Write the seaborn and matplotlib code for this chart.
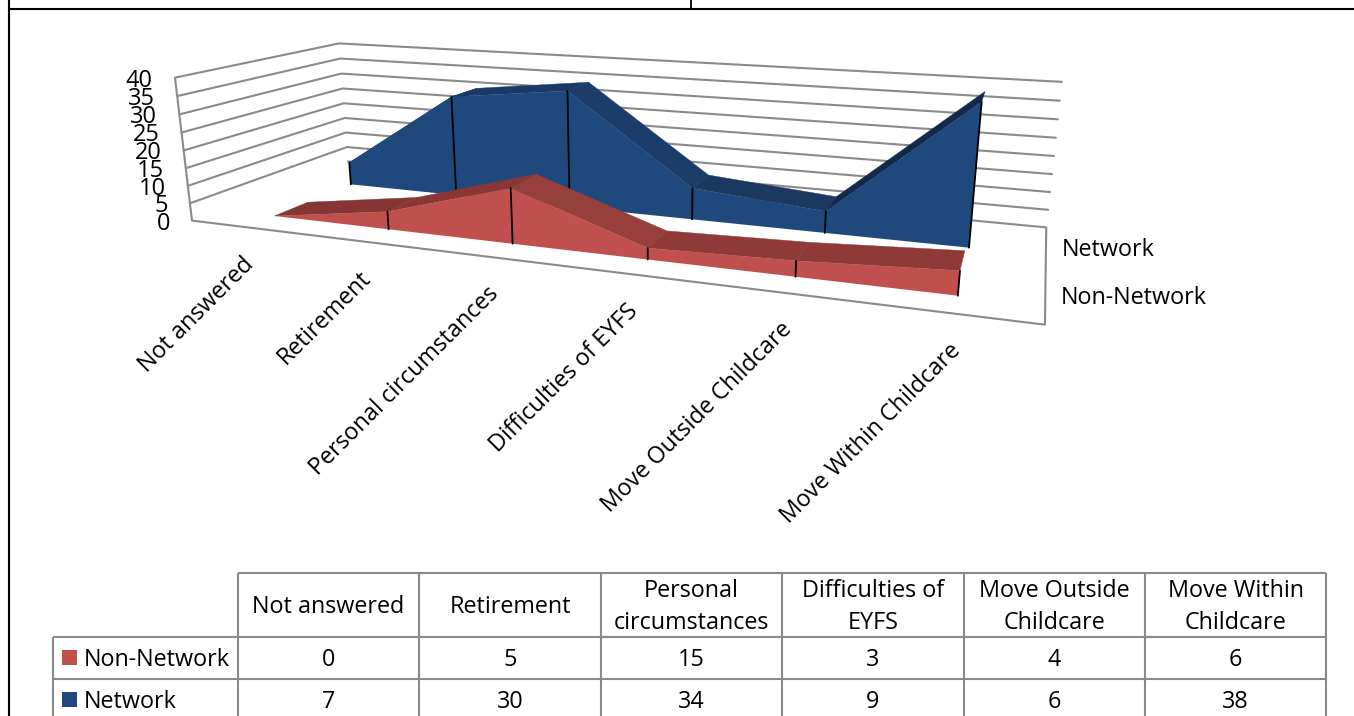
import numpy as np
import pandas as pd
import matplotlib
matplotlib.use("Agg")
import matplotlib.pyplot as plt
import seaborn as sns

categories = ["Not answered", "Retirement", "Personal circumstances",
              "Difficulties of EYFS", "Move Outside Childcare", "Move Within Childcare"]
table_headers = ["Not answered", "Retirement", "Personal\ncircumstances",
                 "Difficulties of\nEYFS", "Move Outside\nChildcare", "Move Within\nChildcare"]
non_network = [0, 5, 15, 3, 4, 6]
network = [7, 30, 34, 9, 6, 38]
y_ticks = [0, 5, 10, 15, 20, 25, 30, 35, 40]

RED, BLUE = "#C0504D", "#1F497D"
RED_TOP = ["#853534", "#8A3635", "#963F3D", "#8F3A39", "#8F3A39"]
BLUE_TOP = ["#1A3A66", "#1A3A66", "#1C3C69", "#1A3860", "#12294B"]
WALL = "#8A8A8A"
FONT = "Open Sans"
TXT = 16.8

sns.set_theme(style="white")
plt.rcParams["font.family"] = [FONT, "DejaVu Sans"]

fig = plt.figure(figsize=(13.54, 7.16), dpi=100)
ax = fig.add_axes([0, 0, 1, 1])
ax.set_xlim(0, 1354)
ax.set_ylim(716, 0)
ax.axis("off")

# camera: (across, depth, value) -> pixel, fitted on the corners of the box
box = [(0, 0, 0, 191, 220), (0, 0, 40, 176, 78), (0, 1, 0, 349, 162), (0, 1, 40, 338, 43),
       (1, 1, 0, 1046, 227), (1, 1, 40, 1062, 82), (1, 0, 0, 1045, 325)]
rows = []
for X, Y, Z, u, v in box:
    rows.append([X, Y, Z, 1, 0, 0, 0, 0, -u * X, -u * Y, -u * Z, -u])
    rows.append([0, 0, 0, 0, X, Y, Z, 1, -v * X, -v * Y, -v * Z, -v])
P = np.linalg.svd(np.array(rows, dtype=float))[2][-1].reshape(3, 4)


def proj(x, d, val):
    p = P @ np.array([x, d, val, 1.0])
    return p[0] / p[2], p[1] / p[2]


def lines(segments, color, lw):
    rec = []
    for n, seg in enumerate(segments):
        for a, b in seg:
            rec.append({"u": a, "v": b, "n": n})
    sns.lineplot(data=pd.DataFrame(rec), x="u", y="v", units="n", estimator=None, sort=False,
                 color=color, lw=lw, ax=ax, legend=False, solid_capstyle="round", zorder=3)


# walls
grid = [[proj(0, 0, t), proj(0, 1, t), proj(1, 1, t)] for t in y_ticks[1:]]
grid.append([proj(0, 1, 0), proj(1, 1, 0), proj(1, 0, 0), proj(0, 0, 0), proj(0, 0, 40)])
lines(grid, WALL, 1.5)

xs = [(i + 0.5) / 6 for i in range(6)]


def ribbon(values, front, back, color, tops, z):
    for i in range(5):
        quad = [proj(xs[i], front, values[i]), proj(xs[i + 1], front, values[i + 1]),
                proj(xs[i + 1], back, values[i + 1]), proj(xs[i], back, values[i])]
        ax.fill(*zip(*quad), color=tops[i], lw=0.3, zorder=z)
    face = [proj(x, front, val) for x, val in zip(xs, values)]
    face += [proj(x, front, 0) for x in xs[::-1]]
    ax.fill(*zip(*face), color=color, lw=0, zorder=z + 0.1)
    for x, val in zip(xs, values):
        if val > 0:
            a, b = proj(x, front, val), proj(x, front, 0)
            ax.plot([a[0], b[0]], [a[1], b[1]], color="black", lw=1.3, zorder=z + 0.2)


ribbon(network, 0.655, 0.865, BLUE, BLUE_TOP, 4)
ribbon(non_network, 0.156, 0.36, RED, RED_TOP, 5)

# value axis labels
for t in y_ticks:
    a = proj(0, 0, t)
    ax.text(a[0] - 22, a[1] + 3, str(t), ha="right", va="center", fontsize=17, color="black", zorder=6)

# category labels
for x, name in zip(xs, categories):
    a = proj(x, 0, 0)
    ax.text(a[0] - 5, a[1] + 25, name, rotation=45, rotation_mode="anchor", ha="right", va="top",
            fontsize=TXT, color="black", zorder=6)

# series names at the side
ax.text(1062, 250, "Network", va="center", fontsize=TXT, color="black")
ax.text(1061, 298, "Non-Network", va="center", fontsize=TXT, color="black")

# data table
col_x = [238, 419, 601, 782, 964, 1145, 1326]
row_y = [573, 637, 679, 716]
ax.vlines(col_x, row_y[0], 716, color=WALL, lw=1.5)
ax.vlines(53, row_y[1], 716, color=WALL, lw=1.5)
ax.hlines(row_y[0], col_x[0], col_x[-1], color=WALL, lw=1.5)
ax.hlines(row_y[1:3], 53, col_x[-1], color=WALL, lw=1.5)
for i, head in enumerate(table_headers):
    cx = (col_x[i] + col_x[i + 1]) / 2
    parts = head.split("\n")
    for k, part in enumerate(parts):
        ax.text(cx, 607 + 32 * (k - (len(parts) - 1) / 2), part, ha="center", va="center",
                fontsize=TXT, color="black")
    ax.text(cx, 660, str(non_network[i]), ha="center", va="center", fontsize=TXT, color="black")
    ax.text(cx, 702, str(network[i]), ha="center", va="center", fontsize=TXT, color="black")
for y, name, col in [(658, "Non-Network", RED), (700, "Network", BLUE)]:
    ax.fill([62, 77, 77, 62], [y - 8, y - 8, y + 7, y + 7], color=col, lw=0)
    ax.text(84, y + 2, name, va="center", fontsize=TXT, color="black")

# page rules around the chart
ax.hlines(9, 9, 1354, color="black", lw=1.5)
ax.vlines(9, 0, 716, color="black", lw=1.5)
ax.vlines(691, 0, 9, color="black", lw=1.3)

fig.savefig("out.png", dpi=100)
